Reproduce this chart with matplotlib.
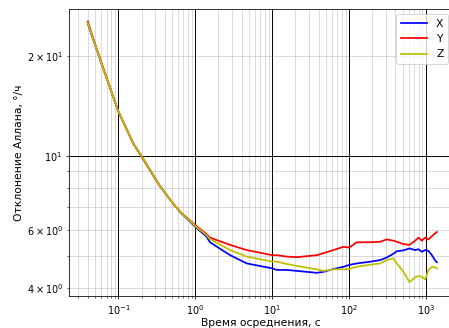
import numpy as np
from matplotlib import pyplot as plt

# время осреднения, с
tau = [0.04, 0.047, 0.0635, 0.1, 0.156, 0.2, 0.34, 0.5, 0.632, 1.0, 1.4, 1.55,
       2.83, 4.66, 10, 11.5, 15.5, 20.9, 38, 46.3, 62.5, 84.3, 100, 126,
       180, 253, 310, 377, 418, 509, 609, 722, 798, 883, 975, 1076, 1191, 1315, 1384]

adev_x = [25.0, 22.4, 18.3, 13.6, 10.9, 10.0, 8.18, 7.25, 6.79, 6.12, 5.72, 5.50,
          5.03, 4.75, 4.59, 4.54, 4.54, 4.51, 4.45, 4.48, 4.57, 4.64, 4.70, 4.75,
          4.80, 4.86, 4.95, 5.08, 5.17, 5.20, 5.27, 5.21, 5.24, 5.15, 5.21, 5.18, 5.03, 4.85, 4.79]

adev_y = [25.4, 22.6, 18.4, 13.6, 10.9, 9.95, 8.15, 7.25, 6.80, 6.19, 5.82, 5.68,
          5.40, 5.21, 5.03, 5.03, 4.98, 4.96, 5.03, 5.10, 5.21, 5.33, 5.30, 5.50,
          5.50, 5.52, 5.61, 5.56, 5.52, 5.43, 5.40, 5.56, 5.68, 5.56, 5.68, 5.61, 5.74, 5.85, 5.91]

adev_z = [25.1, 22.5, 18.3, 13.6, 10.9, 10.0, 8.17, 7.25, 6.80, 6.15, 5.78, 5.62,
          5.21, 4.98, 4.81, 4.81, 4.73, 4.67, 4.56, 4.51, 4.56, 4.56, 4.57, 4.64,
          4.70, 4.75, 4.86, 4.92, 4.75, 4.48, 4.17, 4.32, 4.35, 4.33, 4.25, 4.54, 4.64, 4.62, 4.59]

dpi = 70
fig = plt.figure(figsize=(449 / dpi, 328 / dpi), dpi=dpi)
# правый край осей чуть за пределами картинки, как в оригинале
ax = fig.add_axes([69 / 449, 32 / 328, 384 / 449, 287 / 328])

ax.loglog(tau, adev_x, 'b', lw=1.8, label='X')
ax.loglog(tau, adev_y, 'r', lw=1.8, label='Y')
ax.loglog(tau, adev_z, 'y', lw=1.8, label='Z')

ax.set_xlim(10 ** -1.643, 10 ** 3.351)
ax.set_ylim(3.79, 27.7)

ax.grid(True, which='major', color='black', lw=1.0)
ax.grid(True, which='minor', color='gray', lw=0.8, alpha=0.35)

ax.tick_params(labelsize=10)
ax.set_xlabel('Время осреднения, с', fontsize=11, labelpad=1)
ax.set_ylabel('Отклонение Аллана, °/ч', fontsize=11, labelpad=3)
ax.legend(loc='upper right', fontsize=11, handlelength=2.5)

fig.savefig('out.png', dpi=dpi)
